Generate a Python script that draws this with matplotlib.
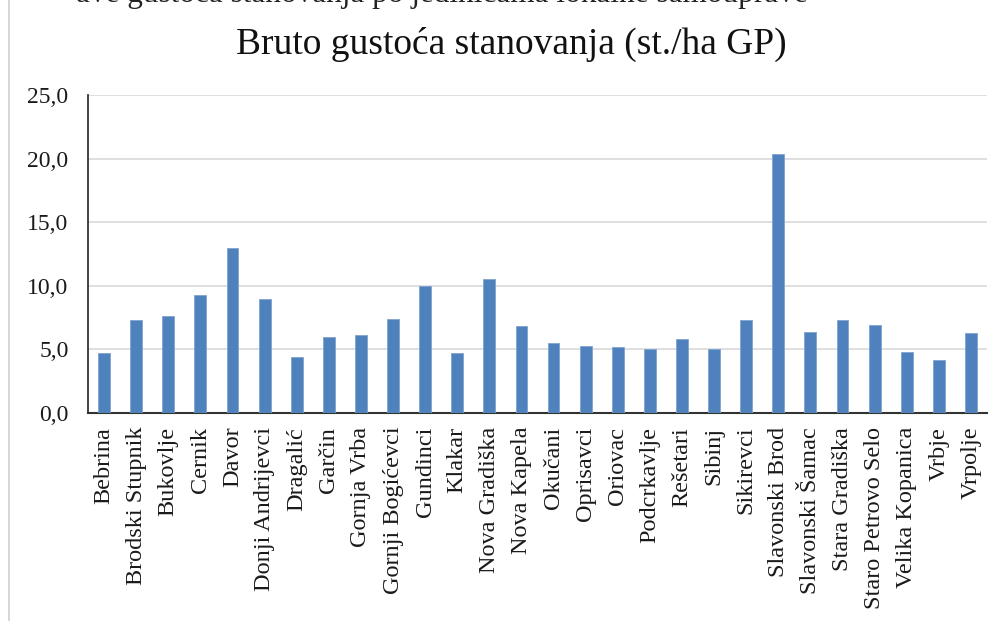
import matplotlib
matplotlib.use("Agg")
import matplotlib.pyplot as plt
from matplotlib.lines import Line2D
from matplotlib.ticker import FuncFormatter

plt.rcParams['font.family'] = ['Liberation Serif', 'DejaVu Serif']

categories = ["Bebrina", "Brodski Stupnik", "Bukovlje", "Cernik", "Davor",
              "Donji Andrijevci", "Dragalić", "Garčin", "Gornja Vrba",
              "Gornji Bogićevci", "Gundinci", "Klakar", "Nova Gradiška",
              "Nova Kapela", "Okučani", "Oprisavci", "Oriovac", "Podcrkavlje",
              "Rešetari", "Sibinj", "Sikirevci", "Slavonski Brod",
              "Slavonski Šamac", "Stara Gradiška", "Staro Petrovo Selo",
              "Velika Kopanica", "Vrbje", "Vrpolje"]
values = [4.7, 7.3, 7.6, 9.3, 13.0, 9.0, 4.4, 6.0, 6.1, 7.4, 10.0, 4.7, 10.5,
          6.8, 5.5, 5.3, 5.2, 5.0, 5.8, 5.0, 7.3, 20.4, 6.4, 7.3, 6.9, 4.8,
          4.2, 6.3]
yticks = [0, 5, 10, 15, 20, 25]
title = "Bruto gustoća stanovanja (st./ha GP)"
caption = "ave gustoća stanovanja po jedinicama lokalne samouprave"

fig = plt.figure(figsize=(10, 6.21), dpi=100)
ax = fig.add_axes([0.088, 0.335, 0.899, 0.512])

x = list(range(len(categories)))
ax.bar(x, values, width=0.37, color="#4F81BD", edgecolor="#7FA3D1",
       linewidth=0.6, zorder=3)

ax.set_xlim(-0.5, len(categories) - 0.5)
ax.set_ylim(0, 25)
ax.set_yticks(yticks)
ax.yaxis.set_major_formatter(FuncFormatter(lambda v, p: f"{v:.1f}".replace(".", ",")))
ax.set_xticks(x)
ax.set_xticklabels(categories, rotation=90, fontsize=17.5, color="#1a1a1a")
ax.tick_params(axis='y', length=0, pad=14, labelsize=17, labelcolor="#1a1a1a")
ax.tick_params(axis='x', length=0, pad=10)

ax.grid(axis='y', color="#d9d9d9", linewidth=1.2, zorder=0)
ax.set_axisbelow(True)
for s in ["top", "right"]:
    ax.spines[s].set_visible(False)
ax.spines["left"].set_color("#222222")
ax.spines["left"].set_linewidth(1.2)
ax.spines["bottom"].set_color("#333333")
ax.spines["bottom"].set_linewidth(1.5)

fig.text(0.511, 0.928, title, ha='center', va='center', fontsize=27,
         color="#111111")
fig.text(0.076, 1 - 2 / 621, caption, ha='left', va='baseline', fontsize=22.5,
         color="#222222")

fig.add_artist(Line2D([0.0085, 0.0085], [0, 1], transform=fig.transFigure,
                      color="#d0d0d0", linewidth=1.2))

fig.savefig("out.png", dpi=100)
